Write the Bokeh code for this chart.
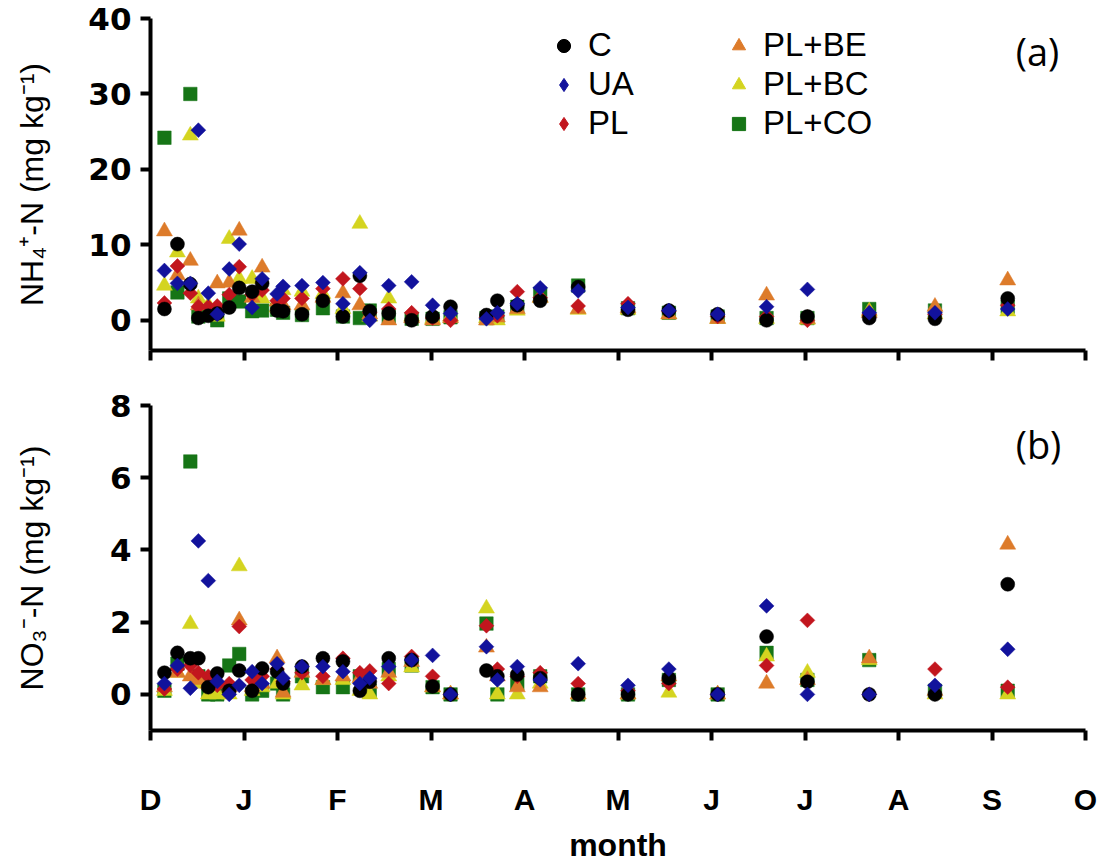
import numpy as np
from bokeh.plotting import figure
from bokeh.layouts import column
from bokeh.models import (FixedTicker, Legend, LegendItem, Label, Range1d,
                          CustomLabelingPolicy)
from bokeh.embed import file_html
from bokeh.resources import INLINE

# ---------------- data ----------------
month_labels = ["D", "J", "F", "M", "A", "M", "J", "J", "A", "S", "O"]
month_ticks = list(range(11))

sample_month = [0.149, 0.288, 0.426, 0.512, 0.618, 0.714, 0.842, 0.949, 1.087, 1.194,
                1.354, 1.418, 1.620, 1.844, 2.058, 2.239, 2.345, 2.548, 2.793, 3.017,
                3.209, 3.593, 3.710, 3.923, 4.168, 4.574, 5.107, 5.544, 6.066, 6.589,
                7.026, 7.687, 8.390, 9.168]

series_names = ["C", "UA", "PL", "PL+BE", "PL+BC", "PL+CO"]

nh4_C = [1.5, 10.1, 4.8, 0.3, 0.6, 0.9, 1.7, 4.3, 3.8, 4.9, 1.3, 1.2, 0.8, 2.6, 0.5, 5.9, 1.2,
         0.9, 0.0, 0.5, 1.8, 0.7, 2.6, 2.0, 2.6, 4.4, 1.4, 1.3, 0.8, 0.0, 0.5, 0.3, 0.2, 2.9]
nh4_UA = [6.6, 4.9, 4.9, 25.2, 3.6, 0.8, 6.8, 10.1, 1.7, 5.5, 3.5, 4.5, 4.6, 5.0, 2.2, 6.3, 0.0,
          4.6, 5.1, 2.0, 0.9, 0.2, 1.0, 2.2, 4.3, 3.9, 1.7, 1.3, 0.8, 1.8, 4.1, 1.0, 1.0, 1.5]
nh4_PL = [2.3, 7.2, 3.6, 1.8, 1.8, 1.9, 3.4, 7.1, 3.4, 4.0, 2.6, 2.9, 2.9, 4.2, 5.5, 4.2, 1.0,
          1.5, 1.0, 0.3, 0.0, 0.4, 0.6, 3.8, 3.0, 1.9, 2.2, 1.2, 0.5, 0.5, 0.0, 0.8, 0.8, 2.0]
nh4_BE = [11.8, 6.0, 7.9, 2.0, 1.0, 4.9, 5.0, 11.9, 3.0, 7.0, 2.5, 2.0, 2.0, 3.0, 3.6, 2.0, 0.8,
          0.0, 0.3, 0.0, 0.3, 0.0, 0.4, 1.5, 3.0, 1.5, 1.6, 0.8, 0.2, 3.3, 0.2, 1.0, 1.8, 5.3]
nh4_BC = [4.6, 9.0, 24.5, 2.9, 2.0, 0.5, 10.8, 5.5, 5.5, 2.9, 1.7, 4.0, 3.8, 3.5, 1.5, 12.8, 0.5,
          2.9, 0.5, 0.2, 0.5, 0.3, 0.0, 1.3, 3.0, 1.4, 1.4, 0.8, 0.2, 0.2, 0.1, 1.2, 0.8, 1.2]
nh4_CO = [24.2, 3.7, 30.0, 0.5, 0.8, 0.0, 2.9, 2.5, 1.2, 1.3, 1.4, 1.0, 0.7, 1.6, 0.5, 0.3, 1.3,
          0.5, 0.2, 0.2, 0.4, 0.3, 0.5, 1.8, 3.5, 4.6, 1.6, 1.0, 0.5, 0.3, 0.3, 1.5, 1.3, 1.8]

no3_C = [0.6, 1.15, 1.0, 1.0, 0.2, 0.58, 0.1, 0.66, 0.1, 0.72, 0.63, 0.3, 0.77, 1.0, 0.91, 0.1,
         0.35, 1.0, 0.95, 0.22, 0.0, 0.66, 0.5, 0.55, 0.45, 0.0, 0.0, 0.45, 0.0, 1.6, 0.35, 0.0,
         0.0, 3.05]
no3_UA = [0.3, 0.8, 0.17, 4.25, 3.15, 0.36, 0.0, 0.25, 0.63, 0.3, 0.85, 0.45, 0.77, 0.77, 0.63,
          0.3, 0.45, 0.77, 0.95, 1.08, 0.0, 1.32, 0.4, 0.77, 0.4, 0.85, 0.25, 0.7, 0.0, 2.45, 0.0,
          0.0, 0.25, 1.25]
no3_PL = [0.15, 0.7, 0.8, 0.6, 0.5, 0.25, 0.3, 1.88, 0.4, 0.5, 0.7, 0.35, 0.6, 0.5, 1.0, 0.6,
          0.65, 0.3, 1.05, 0.5, 0.0, 1.9, 0.7, 0.5, 0.6, 0.3, 0.1, 0.3, 0.0, 0.8, 2.05, 0.0, 0.7,
          0.2]
no3_BE = [0.2, 0.6, 0.5, 0.4, 0.3, 0.3, 0.2, 2.05, 0.2, 0.3, 1.0, 0.05, 0.6, 0.4, 0.5, 0.45, 0.3,
          0.6, 0.9, 0.2, 0.0, 1.3, 0.5, 0.2, 0.2, 0.0, 0.0, 0.5, 0.0, 0.3, 0.4, 1.0, 0.1, 4.15]
no3_BC = [0.1, 0.6, 1.95, 0.3, 0.0, 0.0, 0.0, 3.55, 0.1, 0.2, 0.3, 0.0, 0.25, 0.4, 0.4, 0.1, 0.0,
          0.5, 0.75, 0.2, 0.0, 2.38, 0.0, 0.0, 0.3, 0.0, 0.0, 0.05, 0.0, 1.05, 0.6, 0.95, 0.0, 0.0]
no3_CO = [0.1, 0.85, 6.45, 0.5, 0.0, 0.0, 0.8, 1.12, 0.0, 0.1, 0.3, 0.0, 0.5, 0.2, 0.2, 0.5, 0.1,
          0.7, 0.8, 0.2, 0.0, 1.96, 0.0, 0.3, 0.5, 0.0, 0.0, 0.4, 0.0, 1.15, 0.4, 0.95, 0.1, 0.1]

# ---------------- styles ----------------
colors = {"C": "#000000", "UA": "#12129c", "PL": "#c2161e",
          "PL+BE": "#dd7b2a", "PL+BC": "#d4d420", "PL+CO": "#167516"}
markers = {"C": ("circle", 14, 0.0), "UA": ("square", 10.5, np.pi / 4),
           "PL": ("square", 10.5, np.pi / 4), "PL+BE": ("triangle", 16, 0.0),
           "PL+BC": ("triangle", 16, 0.0), "PL+CO": ("square", 13.5, 0.0)}
legend_markers = {"C": "circle", "UA": "diamond", "PL": "diamond",
                  "PL+BE": "triangle", "PL+BC": "triangle", "PL+CO": "square"}
draw_order = ["PL+CO", "PL+BC", "PL+BE", "PL", "C", "UA"]

nh4 = dict(zip(series_names, [nh4_C, nh4_UA, nh4_PL, nh4_BE, nh4_BC, nh4_CO]))
no3 = dict(zip(series_names, [no3_C, no3_UA, no3_PL, no3_BE, no3_BC, no3_CO]))

W = 1098
TICK_FONT = "DejaVu Sans"
LABEL_FONT = "Liberation Sans"


def style_axes(p):
    p.grid.visible = False
    p.outline_line_color = None
    p.background_fill_color = "white"
    p.border_fill_color = "white"
    for ax in p.axis:
        ax.axis_line_width = 4
        ax.axis_line_color = "black"
        ax.major_tick_line_width = 4
        ax.major_tick_line_color = "black"
        ax.major_tick_in = 0
        ax.major_tick_out = 10
        ax.minor_tick_line_color = None
    p.yaxis.major_label_text_font = TICK_FONT
    p.yaxis.major_label_text_font_style = "bold"
    p.yaxis.major_label_text_font_size = "31px"
    p.yaxis.major_label_text_color = "black"
    p.yaxis.major_label_standoff = 9
    p.yaxis.axis_label_text_font = LABEL_FONT
    p.yaxis.axis_label_text_font_style = "normal"
    p.yaxis.axis_label_text_font_size = "32px"
    p.yaxis.axis_label_text_color = "black"
    p.xaxis.ticker = FixedTicker(ticks=month_ticks)


def add_points(p, data):
    rends = {}
    for name in draw_order:
        m, s, a = markers[name]
        rends[name] = p.scatter(sample_month, data[name], marker=m, size=s, angle=a,
                                fill_color=colors[name], line_color=colors[name], line_width=0.5)
    return rends


# ---------------- top panel (a) ----------------
p1 = figure(width=W, height=372, x_range=Range1d(0, 10), y_range=Range1d(-4, 40),
            output_backend="svg", toolbar_location=None,
            min_border_left=150, min_border_right=13, min_border_top=18, min_border_bottom=22)
style_axes(p1)
p1.yaxis.ticker = FixedTicker(ticks=[0, 10, 20, 30, 40])
p1.yaxis.axis_label = "NH\u2084\u207A-N (mg kg\u207B\u00B9)"
p1.yaxis.axis_label_standoff = 35
# top panel x axis: ticks only, no labels
p1.xaxis.major_label_policy = CustomLabelingPolicy(
    code="for (const i of indices) indices.unset(i); return indices")
p1.xaxis.major_label_standoff = 0
add_points(p1, nh4)

# legend keys: non-drawn proxies (NaN position) that carry the reference's key shapes
proxies = {n: p1.scatter([float("nan")], [float("nan")], marker=legend_markers[n], size=12,
                         fill_color=colors[n], line_color=colors[n])
           for n in series_names}

leg_font = "33px"
for names, vx in ((["C", "UA", "PL"], 397), (["PL+BE", "PL+BC", "PL+CO"], 572)):
    leg = Legend(items=[LegendItem(label=n, renderers=[proxies[n]]) for n in names],
                 location=(vx, 208), orientation="vertical",
                 background_fill_alpha=0, border_line_color=None,
                 padding=0, margin=0, spacing=1,
                 glyph_width=33, glyph_height=37, label_height=37, label_standoff=8,
                 label_text_font=LABEL_FONT, label_text_font_size=leg_font,
                 label_text_color="black")
    p1.add_layout(leg, "center")

p1.add_layout(Label(x=887, y=300, x_units="screen", y_units="screen", text="(a)",
                    text_font="Open Sans", text_font_size="38px", text_color="black",
                    text_align="center", text_baseline="middle"))

# ---------------- bottom panel (b) ----------------
p2 = figure(width=W, height=493, x_range=p1.x_range, y_range=Range1d(-1, 8),
            output_backend="svg", toolbar_location=None,
            min_border_left=150, min_border_right=13, min_border_top=33, min_border_bottom=135)
style_axes(p2)
p2.yaxis.ticker = FixedTicker(ticks=[0, 2, 4, 6, 8])
p2.yaxis.axis_label = "NO\u2083\u207B-N (mg kg\u207B\u00B9)"
p2.yaxis.axis_label_standoff = 57
p2.xaxis.major_label_overrides = {i: lab for i, lab in zip(month_ticks, month_labels)}
p2.xaxis.major_label_text_font = LABEL_FONT
p2.xaxis.major_label_text_font_style = "bold"
p2.xaxis.major_label_text_font_size = "30px"
p2.xaxis.major_label_text_color = "black"
p2.xaxis.major_label_standoff = 42
p2.xaxis.axis_label = "month"
p2.xaxis.axis_label_text_font = LABEL_FONT
p2.xaxis.axis_label_text_font_style = "bold"
p2.xaxis.axis_label_text_font_size = "32px"
p2.xaxis.axis_label_text_color = "black"
p2.xaxis.axis_label_standoff = 8
add_points(p2, no3)

p2.add_layout(Label(x=888, y=287, x_units="screen", y_units="screen", text="(b)",
                    text_font="Open Sans", text_font_size="38px", text_color="black",
                    text_align="center", text_baseline="middle"))

layout = column(p1, p2)
open("out.html", "w").write(file_html(layout, INLINE))
